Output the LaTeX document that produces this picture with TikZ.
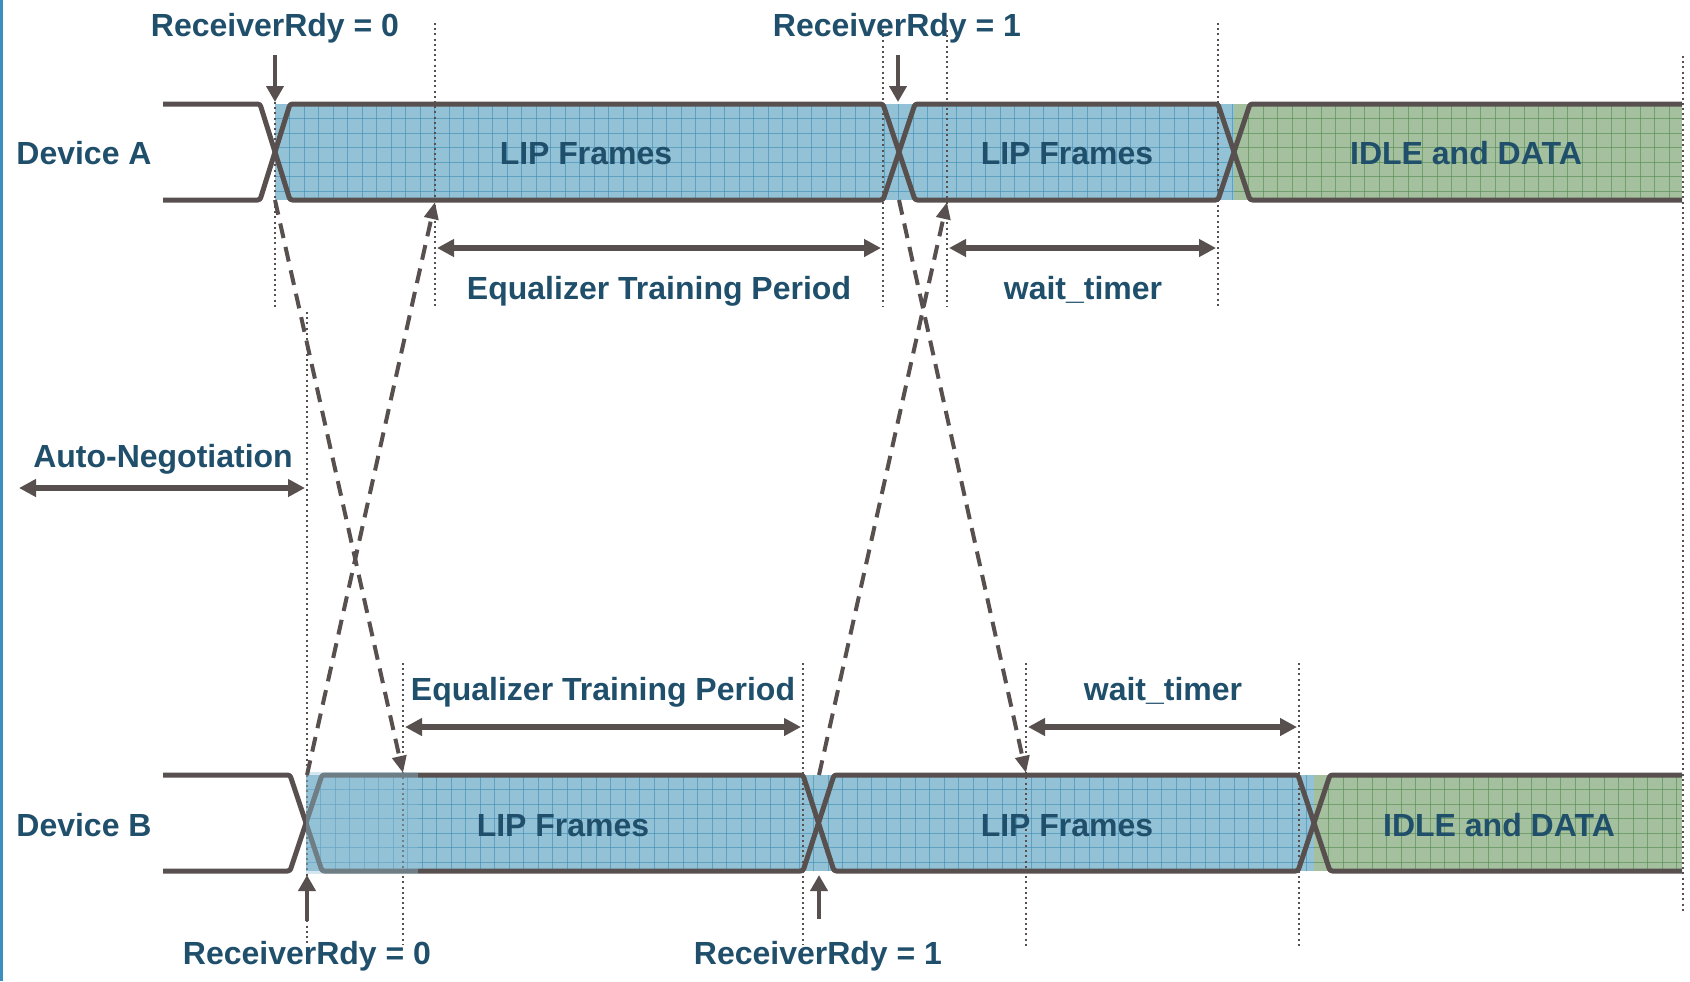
\documentclass[tikz,border=0pt]{standalone}
\usepackage{fontspec}
\setmainfont{Liberation Sans}
\usetikzlibrary{arrows.meta}

\definecolor{ink}{HTML}{1F4F6B}
\definecolor{wire}{HTML}{58504E}
\definecolor{lipfill}{HTML}{93C1D6}
\definecolor{lipgrid}{HTML}{3C8CB4}
\definecolor{datafill}{HTML}{A4C09E}
\definecolor{datagrid}{HTML}{4F8A4F}
\definecolor{edge}{HTML}{3B8FBF}

% shaded band with a square cell pattern: left, top, right, bottom, colour prefix
\newcommand\cellfill[5]{%
  \fill[#5fill] (#1,#2) rectangle (#3,#4);
  \begin{scope}
    \clip (#1,#2) rectangle (#3,#4);
    \foreach \k in {1,...,70}{
      \draw[#5grid, line width=0.45pt, opacity=0.6] ({#1+14.5*\k},#2) -- ({#1+14.5*\k},#4);
    }
    \foreach \k in {1,...,6}{
      \draw[#5grid, line width=0.45pt, opacity=0.6] (#1,{#2+14.5*\k}) -- (#3,{#2+14.5*\k});
    }
  \end{scope}}

\tikzset{
  txt/.style={text=ink, inner sep=0pt, anchor=base},
  signal/.style={draw=wire, line width=2.5pt, line join=round, rounded corners=1.2pt},
  guide/.style={draw=wire, line width=1pt, dash pattern=on 1pt off 1.6pt},
  span/.style={draw=wire, line width=2.6pt,
    {Triangle[length=8.5pt,width=8.5pt]}-{Triangle[length=8.5pt,width=8.5pt]}},
  flag/.style={draw=wire, line width=2.4pt, -{Triangle[length=8pt,width=8.5pt]}},
  hop/.style={draw=wire, line width=2pt, dash pattern=on 7.5pt off 4.5pt,
    -{Triangle[length=8.5pt,width=7pt]}},
}

\begin{document}
\begin{tikzpicture}[x=0.5pt, y=-0.5pt, font=\fontsize{16}{19}\selectfont\bfseries]
\useasboundingbox (0,0) rectangle (1690,981);

% left margin rule
\fill[edge] (0,0) rectangle (3,981);

% ---- bands ----
\cellfill{275}{104}{1234}{200}{lip}
\cellfill{1234}{104}{1682}{200}{data}
\cellfill{306}{775}{1314}{871}{lip}
\cellfill{1314}{775}{1682}{871}{data}

% ---- dotted timing guides ----
\draw[guide] (275,102) -- (275,307);
\draw[guide] (435,23) -- (435,307);
\draw[guide] (883,30) -- (883,307);
\draw[guide] (947,30) -- (947,307);
\draw[guide] (1218,23) -- (1218,307);
\draw[guide] (1683,56) -- (1683,913);
\draw[guide] (307,312) -- (307,943);
\draw[guide] (403,663) -- (403,945);
\draw[guide] (803,663) -- (803,945);
\draw[guide] (1026,663) -- (1026,948);
\draw[guide] (1299,663) -- (1299,948);

% ---- signal outlines ----
\draw[signal] (163,104) -- (260,104) -- (290,200) -- (883,200) -- (915,104)
  -- (1218,104) -- (1250,200) -- (1682,200);
\draw[signal] (163,200) -- (260,200) -- (290,104) -- (883,104) -- (915,200)
  -- (1218,200) -- (1250,104) -- (1682,104);
\draw[signal] (163,775) -- (290,775) -- (322,871) -- (803,871) -- (834,775)
  -- (1298,775) -- (1330,871) -- (1682,871);
\draw[signal] (163,871) -- (290,871) -- (322,775) -- (803,775) -- (834,871)
  -- (1298,871) -- (1330,775) -- (1682,775);

% tint over the start of the second band
\fill[lipfill, opacity=0.4] (306,772) rectangle (418,874);

% ---- anchor points ----
\coordinate (rA1s) at (275,55);  \coordinate (rA1e) at (275,102);
\coordinate (rA2s) at (898,55);  \coordinate (rA2e) at (898,102);
\coordinate (rB1s) at (307,921); \coordinate (rB1e) at (307,875);
\coordinate (rB2s) at (819,919); \coordinate (rB2e) at (819,875);

\coordinate (xA1) at (275,200);  \coordinate (tB1) at (403,773);
\coordinate (xB1) at (307,775);  \coordinate (tA1) at (435,202);
\coordinate (xA2) at (899,200);  \coordinate (tB2) at (1026,773);
\coordinate (xB2) at (819,775);  \coordinate (tA2) at (947,202);

\coordinate (eqAl) at (437,248);  \coordinate (eqAr) at (881,248);
\coordinate (wtAl) at (949,248);  \coordinate (wtAr) at (1216,248);
\coordinate (anl)  at (19,488);   \coordinate (anr)  at (305,488);
\coordinate (eqBl) at (405,727);  \coordinate (eqBr) at (801,727);
\coordinate (wtBl) at (1028,727); \coordinate (wtBr) at (1297,727);

% ---- ReceiverRdy markers ----
\draw[flag] (rA1s) -- (rA1e);
\draw[flag] (rA2s) -- (rA2e);
\draw[flag] (rB1s) -- (rB1e);
\draw[flag] (rB2s) -- (rB2e);

% ---- propagation between devices ----
\draw[hop] (xA1) -- (tB1);
\draw[hop] (xB1) -- (tA1);
\draw[hop] (xA2) -- (tB2);
\draw[hop] (xB2) -- (tA2);

% ---- interval spans ----
\draw[span] (eqAl) -- (eqAr);
\draw[span] (wtAl) -- (wtAr);
\draw[span] (anl) -- (anr);
\draw[span] (eqBl) -- (eqBr);
\draw[span] (wtBl) -- (wtBr);

% ---- labels ----
\node[txt] (rrA0) at (275,36) {ReceiverRdy = 0};
\node[txt] (rrA1) at (897,36) {ReceiverRdy = 1};
\node[txt, anchor=base west] (devA) at (16,164) {Device A};
\node[txt] (lipA1) at (586,164) {LIP Frames};
\node[txt] (lipA2) at (1067,164) {LIP Frames};
\node[txt] (dataA) at (1466,164) {IDLE and DATA};
\node[txt] (eqA) at (659,299) {Equalizer Training Period};
\node[txt] (waitA) at (1083,299) {wait\_timer};
\node[txt] (autoneg) at (163,467) {Auto-Negotiation};
\node[txt] (eqB) at (603,700) {Equalizer Training Period};
\node[txt] (waitB) at (1163,700) {wait\_timer};
\node[txt, anchor=base west] (devB) at (16,836) {Device B};
\node[txt] (lipB1) at (563,836) {LIP Frames};
\node[txt] (lipB2) at (1067,836) {LIP Frames};
\node[txt] (dataB) at (1499,836) {IDLE and DATA};
\node[txt] (rrB0) at (307,964) {ReceiverRdy = 0};
\node[txt] (rrB1) at (818,964) {ReceiverRdy = 1};
\end{tikzpicture}
\end{document}
